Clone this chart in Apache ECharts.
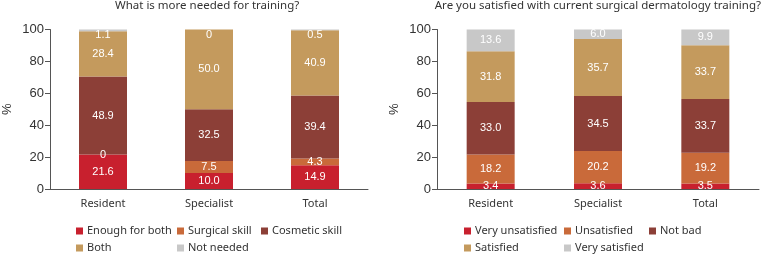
<!DOCTYPE html>
<html>
<head>
<meta charset="utf-8">
<script src="https://cdn.jsdelivr.net/npm/echarts@6/dist/echarts.min.js"></script>
<style>
  html, body { margin: 0; padding: 0; background: #fff; }
  #myChart { width: 762px; height: 255px; }
</style>
</head>
<body>
<div id="myChart"></div>
<script>
// 分类
var groups = ['Resident', 'Specialist', 'Total'];

// 左图: What is more needed for training?
var needNames = ['Enough for both', 'Surgical skill', 'Cosmetic skill', 'Both', 'Not needed'];
var enoughForBoth = [21.6, 10.0, 14.9];
var surgicalSkill = [0, 7.5, 4.3];
var cosmeticSkill = [48.9, 32.5, 39.4];
var bothSkill = [28.4, 50.0, 40.9];
var notNeeded = [1.1, 0, 0.5];

// 右图: Are you satisfied with current surgical dermatology training?
var satNames = ['Very unsatisfied', 'Unsatisfied', 'Not bad', 'Satisfied', 'Very satisfied'];
var veryUnsatisfied = [3.4, 3.6, 3.5];
var unsatisfied = [18.2, 20.2, 19.2];
var notBad = [33.0, 34.5, 33.7];
var satisfied = [31.8, 35.7, 33.7];
var verySatisfied = [13.6, 6.0, 9.9];

var yTicks = [0, 20, 40, 60, 80, 100];

var colors = ['#c8202e', '#c96a3a', '#8c3f37', '#c49a5d', '#c8c8c8'];
var textFont = 'Noto Sans';
var numFont = 'Liberation Sans';

function fmt (p) {
    return p.value === 0 ? '0' : p.value.toFixed(1);
}

function makeSeries (names, datas, idx) {
    return names.map(function (n, i) {
        var lbl = {
            show: true,
            position: 'inside',
            color: '#fff',
            fontFamily: numFont,
            fontSize: 11,
            formatter: fmt
        };
        // 左图最上面一段标签放在顶部内侧
        if (idx === 0 && i === 4) {
            lbl.position = 'insideTop';
            lbl.distance = 0;
        }
        return {
            name: n,
            type: 'bar',
            stack: 'st' + idx,
            xAxisIndex: idx,
            yAxisIndex: idx,
            barWidth: 48,
            itemStyle: { color: colors[i] },
            label: lbl,
            data: datas[i]
        };
    });
}

function yAxisOpt (idx) {
    return {
        gridIndex: idx,
        type: 'value',
        min: 0,
        max: 100,
        interval: 20,
        name: '%',
        nameLocation: 'middle',
        nameRotate: 90,
        nameGap: 36,
        nameTextStyle: { fontFamily: numFont, fontSize: 13, color: '#333' },
        axisLine: { show: true, lineStyle: { color: '#555' } },
        axisTick: { show: true, length: 5, lineStyle: { color: '#555' } },
        axisLabel: {
            fontFamily: numFont, fontSize: 13, color: '#333', margin: 6,
            formatter: function (v) { return yTicks.indexOf(v) >= 0 ? String(v) : ''; }
        },
        splitLine: { show: false }
    };
}

function xAxisOpt (idx) {
    return {
        gridIndex: idx,
        type: 'category',
        data: groups,
        axisLine: { lineStyle: { color: '#555' } },
        axisTick: { alignWithLabel: true, length: 4, lineStyle: { color: '#555' } },
        axisLabel: { fontFamily: textFont, fontSize: 11, color: '#333', margin: 9 }
    };
}

function legendCol (names, left) {
    return {
        orient: 'vertical',
        left: left,
        top: 224,
        icon: 'rect',
        itemWidth: 7,
        itemHeight: 7,
        itemGap: 3,
        textStyle: { fontFamily: textFont, fontSize: 11, color: '#333', lineHeight: 14, padding: [0, 0, 0, -1] },
        padding: 0,
        selectedMode: false,
        data: names
    };
}

var myChart = echarts.init(document.getElementById('myChart'));
myChart.setOption({
    animation: false,
    title: [
        {
            text: 'What is more needed for training?',
            left: 115, top: 0, padding: 0,
            textStyle: { fontFamily: textFont, fontSize: 11.5, fontWeight: 'normal', color: '#333' }
        },
        {
            text: 'Are you satisfied with current surgical dermatology training?',
            right: 1, top: 0, padding: 0,
            textStyle: { fontFamily: textFont, fontSize: 11.5, fontWeight: 'normal', color: '#333' }
        }
    ],
    legend: [
        legendCol([needNames[0], needNames[3]], 76),
        legendCol([needNames[1], needNames[4]], 177),
        legendCol([needNames[2]], 261),
        legendCol([satNames[0], satNames[3]], 464),
        legendCol([satNames[1], satNames[4]], 564),
        legendCol([satNames[2]], 649)
    ],
    grid: [
        { left: 48, top: 29.5, width: 320, height: 159.5 },
        { left: 437, top: 29.5, width: 322, height: 159.5 }
    ],
    xAxis: [xAxisOpt(0), xAxisOpt(1)],
    yAxis: [yAxisOpt(0), yAxisOpt(1)],
    series: makeSeries(needNames, [enoughForBoth, surgicalSkill, cosmeticSkill, bothSkill, notNeeded], 0)
        .concat(makeSeries(satNames, [veryUnsatisfied, unsatisfied, notBad, satisfied, verySatisfied], 1))
});
</script>
</body>
</html>
